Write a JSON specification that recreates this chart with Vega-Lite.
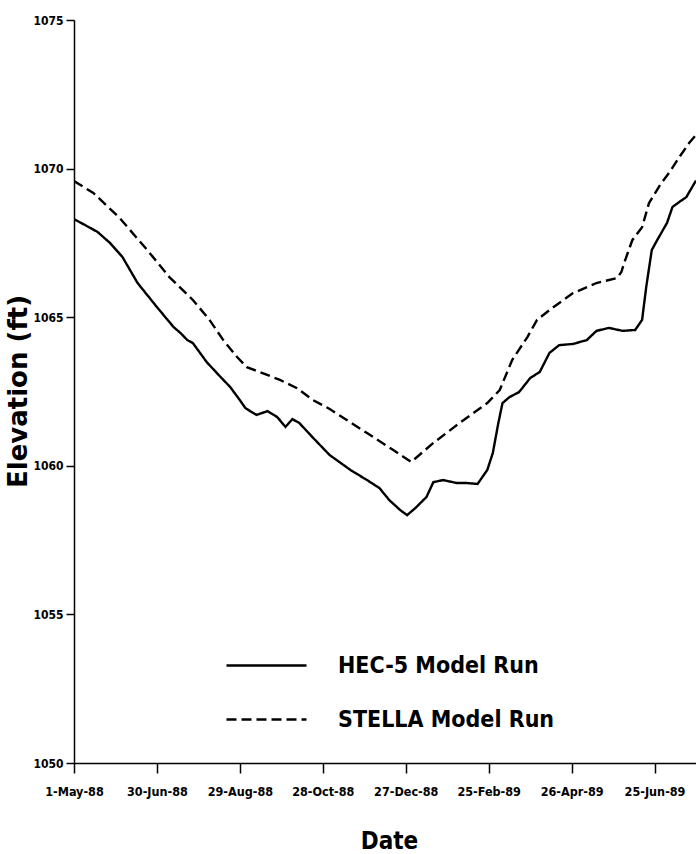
{
  "$schema": "https://vega.github.io/schema/vega-lite/v6.json",
  "width": 622,
  "height": 743,
  "autosize": {"type": "none"},
  "padding": {"left": 74, "top": 20, "right": 0, "bottom": 91},
  "background": "white",
  "config": {
    "view": {"stroke": null},
    "axis": {"grid": false, "domainColor": "black", "tickColor": "black", "labelColor": "black", "titleColor": "black", "domainWidth": 1.5, "tickWidth": 1.5}
  },
  "data": {
    "values": [
      {"date": "1988-05-01", "elev": 1068.30, "series": "HEC-5 Model Run"},
      {"date": "1988-05-09", "elev": 1068.10, "series": "HEC-5 Model Run"},
      {"date": "1988-05-18", "elev": 1067.87, "series": "HEC-5 Model Run"},
      {"date": "1988-05-27", "elev": 1067.50, "series": "HEC-5 Model Run"},
      {"date": "1988-06-05", "elev": 1067.03, "series": "HEC-5 Model Run"},
      {"date": "1988-06-16", "elev": 1066.15, "series": "HEC-5 Model Run"},
      {"date": "1988-06-30", "elev": 1065.34, "series": "HEC-5 Model Run"},
      {"date": "1988-07-12", "elev": 1064.67, "series": "HEC-5 Model Run"},
      {"date": "1988-07-17", "elev": 1064.47, "series": "HEC-5 Model Run"},
      {"date": "1988-07-22", "elev": 1064.23, "series": "HEC-5 Model Run"},
      {"date": "1988-07-26", "elev": 1064.13, "series": "HEC-5 Model Run"},
      {"date": "1988-08-05", "elev": 1063.49, "series": "HEC-5 Model Run"},
      {"date": "1988-08-15", "elev": 1062.99, "series": "HEC-5 Model Run"},
      {"date": "1988-08-22", "elev": 1062.65, "series": "HEC-5 Model Run"},
      {"date": "1988-08-29", "elev": 1062.21, "series": "HEC-5 Model Run"},
      {"date": "1988-09-02", "elev": 1061.94, "series": "HEC-5 Model Run"},
      {"date": "1988-09-10", "elev": 1061.71, "series": "HEC-5 Model Run"},
      {"date": "1988-09-18", "elev": 1061.84, "series": "HEC-5 Model Run"},
      {"date": "1988-09-25", "elev": 1061.64, "series": "HEC-5 Model Run"},
      {"date": "1988-10-01", "elev": 1061.31, "series": "HEC-5 Model Run"},
      {"date": "1988-10-06", "elev": 1061.57, "series": "HEC-5 Model Run"},
      {"date": "1988-10-11", "elev": 1061.44, "series": "HEC-5 Model Run"},
      {"date": "1988-10-21", "elev": 1060.94, "series": "HEC-5 Model Run"},
      {"date": "1988-11-02", "elev": 1060.36, "series": "HEC-5 Model Run"},
      {"date": "1988-11-17", "elev": 1059.86, "series": "HEC-5 Model Run"},
      {"date": "1988-11-29", "elev": 1059.52, "series": "HEC-5 Model Run"},
      {"date": "1988-12-08", "elev": 1059.25, "series": "HEC-5 Model Run"},
      {"date": "1988-12-15", "elev": 1058.85, "series": "HEC-5 Model Run"},
      {"date": "1988-12-23", "elev": 1058.51, "series": "HEC-5 Model Run"},
      {"date": "1988-12-28", "elev": 1058.34, "series": "HEC-5 Model Run"},
      {"date": "1989-01-03", "elev": 1058.58, "series": "HEC-5 Model Run"},
      {"date": "1989-01-11", "elev": 1058.95, "series": "HEC-5 Model Run"},
      {"date": "1989-01-16", "elev": 1059.45, "series": "HEC-5 Model Run"},
      {"date": "1989-01-23", "elev": 1059.52, "series": "HEC-5 Model Run"},
      {"date": "1989-02-02", "elev": 1059.42, "series": "HEC-5 Model Run"},
      {"date": "1989-02-09", "elev": 1059.42, "series": "HEC-5 Model Run"},
      {"date": "1989-02-17", "elev": 1059.39, "series": "HEC-5 Model Run"},
      {"date": "1989-02-24", "elev": 1059.86, "series": "HEC-5 Model Run"},
      {"date": "1989-02-28", "elev": 1060.43, "series": "HEC-5 Model Run"},
      {"date": "1989-03-04", "elev": 1061.44, "series": "HEC-5 Model Run"},
      {"date": "1989-03-07", "elev": 1062.11, "series": "HEC-5 Model Run"},
      {"date": "1989-03-12", "elev": 1062.31, "series": "HEC-5 Model Run"},
      {"date": "1989-03-19", "elev": 1062.48, "series": "HEC-5 Model Run"},
      {"date": "1989-03-27", "elev": 1062.95, "series": "HEC-5 Model Run"},
      {"date": "1989-04-03", "elev": 1063.16, "series": "HEC-5 Model Run"},
      {"date": "1989-04-10", "elev": 1063.80, "series": "HEC-5 Model Run"},
      {"date": "1989-04-17", "elev": 1064.06, "series": "HEC-5 Model Run"},
      {"date": "1989-04-27", "elev": 1064.10, "series": "HEC-5 Model Run"},
      {"date": "1989-05-07", "elev": 1064.23, "series": "HEC-5 Model Run"},
      {"date": "1989-05-14", "elev": 1064.54, "series": "HEC-5 Model Run"},
      {"date": "1989-05-23", "elev": 1064.64, "series": "HEC-5 Model Run"},
      {"date": "1989-06-02", "elev": 1064.54, "series": "HEC-5 Model Run"},
      {"date": "1989-06-11", "elev": 1064.57, "series": "HEC-5 Model Run"},
      {"date": "1989-06-16", "elev": 1064.91, "series": "HEC-5 Model Run"},
      {"date": "1989-06-19", "elev": 1066.02, "series": "HEC-5 Model Run"},
      {"date": "1989-06-23", "elev": 1067.26, "series": "HEC-5 Model Run"},
      {"date": "1989-06-27", "elev": 1067.60, "series": "HEC-5 Model Run"},
      {"date": "1989-07-04", "elev": 1068.17, "series": "HEC-5 Model Run"},
      {"date": "1989-07-08", "elev": 1068.71, "series": "HEC-5 Model Run"},
      {"date": "1989-07-13", "elev": 1068.88, "series": "HEC-5 Model Run"},
      {"date": "1989-07-18", "elev": 1069.04, "series": "HEC-5 Model Run"},
      {"date": "1989-07-25", "elev": 1069.60, "series": "HEC-5 Model Run"},
      {"date": "1988-05-01", "elev": 1069.58, "series": "STELLA Model Run"},
      {"date": "1988-05-15", "elev": 1069.18, "series": "STELLA Model Run"},
      {"date": "1988-06-03", "elev": 1068.34, "series": "STELLA Model Run"},
      {"date": "1988-06-23", "elev": 1067.26, "series": "STELLA Model Run"},
      {"date": "1988-07-09", "elev": 1066.35, "series": "STELLA Model Run"},
      {"date": "1988-07-26", "elev": 1065.58, "series": "STELLA Model Run"},
      {"date": "1988-08-07", "elev": 1064.91, "series": "STELLA Model Run"},
      {"date": "1988-08-17", "elev": 1064.23, "series": "STELLA Model Run"},
      {"date": "1988-08-27", "elev": 1063.66, "series": "STELLA Model Run"},
      {"date": "1988-09-03", "elev": 1063.32, "series": "STELLA Model Run"},
      {"date": "1988-09-12", "elev": 1063.16, "series": "STELLA Model Run"},
      {"date": "1988-09-27", "elev": 1062.89, "series": "STELLA Model Run"},
      {"date": "1988-10-09", "elev": 1062.62, "series": "STELLA Model Run"},
      {"date": "1988-10-21", "elev": 1062.21, "series": "STELLA Model Run"},
      {"date": "1988-11-02", "elev": 1061.91, "series": "STELLA Model Run"},
      {"date": "1988-11-29", "elev": 1061.10, "series": "STELLA Model Run"},
      {"date": "1988-12-18", "elev": 1060.53, "series": "STELLA Model Run"},
      {"date": "1988-12-31", "elev": 1060.13, "series": "STELLA Model Run"},
      {"date": "1989-01-16", "elev": 1060.77, "series": "STELLA Model Run"},
      {"date": "1989-02-04", "elev": 1061.44, "series": "STELLA Model Run"},
      {"date": "1989-02-24", "elev": 1062.11, "series": "STELLA Model Run"},
      {"date": "1989-03-05", "elev": 1062.55, "series": "STELLA Model Run"},
      {"date": "1989-03-14", "elev": 1063.56, "series": "STELLA Model Run"},
      {"date": "1989-03-25", "elev": 1064.33, "series": "STELLA Model Run"},
      {"date": "1989-04-01", "elev": 1064.91, "series": "STELLA Model Run"},
      {"date": "1989-04-12", "elev": 1065.31, "series": "STELLA Model Run"},
      {"date": "1989-04-27", "elev": 1065.81, "series": "STELLA Model Run"},
      {"date": "1989-05-14", "elev": 1066.15, "series": "STELLA Model Run"},
      {"date": "1989-05-29", "elev": 1066.32, "series": "STELLA Model Run"},
      {"date": "1989-06-01", "elev": 1066.52, "series": "STELLA Model Run"},
      {"date": "1989-06-03", "elev": 1066.82, "series": "STELLA Model Run"},
      {"date": "1989-06-09", "elev": 1067.60, "series": "STELLA Model Run"},
      {"date": "1989-06-16", "elev": 1068.03, "series": "STELLA Model Run"},
      {"date": "1989-06-21", "elev": 1068.84, "series": "STELLA Model Run"},
      {"date": "1989-06-29", "elev": 1069.45, "series": "STELLA Model Run"},
      {"date": "1989-07-06", "elev": 1069.89, "series": "STELLA Model Run"},
      {"date": "1989-07-13", "elev": 1070.39, "series": "STELLA Model Run"},
      {"date": "1989-07-20", "elev": 1070.86, "series": "STELLA Model Run"},
      {"date": "1989-07-25", "elev": 1071.13, "series": "STELLA Model Run"}
    ]
  },
  "mark": {"type": "line", "color": "black", "strokeWidth": 2.4, "clip": true},
  "encoding": {
    "x": {
      "field": "date",
      "type": "temporal",
      "scale": {"type": "utc", "domain": [{"year": 1988, "month": 5, "date": 1, "utc": true}, {"year": 1989, "month": 7, "date": 25, "utc": true}]},
      "axis": {
        "values": [
          {"year": 1988, "month": 5, "date": 1, "utc": true},
          {"year": 1988, "month": 6, "date": 30, "utc": true},
          {"year": 1988, "month": 8, "date": 29, "utc": true},
          {"year": 1988, "month": 10, "date": 28, "utc": true},
          {"year": 1988, "month": 12, "date": 27, "utc": true},
          {"year": 1989, "month": 2, "date": 25, "utc": true},
          {"year": 1989, "month": 4, "date": 26, "utc": true},
          {"year": 1989, "month": 6, "date": 25, "utc": true}
        ],
        "format": "%-d-%b-%y",
        "tickSize": 10,
        "labelFont": "DejaVu Sans Condensed",
        "labelFontWeight": "bold",
        "labelFontSize": 12.5,
        "labelPadding": 12,
        "labelFlush": false,
        "labelOverlap": false,
        "title": "Date",
        "titleFont": "DejaVu Sans Condensed",
        "titleFontWeight": "bold",
        "titleFontSize": 24,
        "titleX": 315,
        "titleY": 85,
        "titleBaseline": "alphabetic",
        "titleAnchor": null
      }
    },
    "y": {
      "field": "elev",
      "type": "quantitative",
      "scale": {"domain": [1050, 1075], "nice": false, "zero": false},
      "axis": {
        "values": [1050, 1055, 1060, 1065, 1070, 1075],
        "format": "d",
        "tickSize": 8,
        "labelFont": "DejaVu Sans Condensed",
        "labelFontWeight": "bold",
        "labelFontSize": 12,
        "labelPadding": 3,
        "title": "Elevation (ft)",
        "titleFont": "DejaVu Sans",
        "titleFontWeight": "bold",
        "titleFontSize": 26,
        "titleAngle": -90,
        "titleX": -56,
        "titleY": 371,
        "titleBaseline": "middle",
        "titleAlign": "center"
      }
    },
    "strokeDash": {
      "field": "series",
      "type": "nominal",
      "scale": {"domain": ["HEC-5 Model Run", "STELLA Model Run"], "range": [[1, 0], [10, 5]]},
      "legend": {
        "title": null,
        "orient": "none",
        "legendX": 151,
        "legendY": 604,
        "symbolType": "stroke",
        "symbolSize": 6400,
        "symbolStrokeWidth": 2.4,
        "symbolStrokeColor": "black",
        "labelFont": "DejaVu Sans Condensed",
        "labelFontWeight": "bold",
        "labelFontSize": 23,
        "labelColor": "black",
        "labelOffset": 30,
        "labelLimit": 400,
        "rowPadding": 0
      }
    }
  }
}
